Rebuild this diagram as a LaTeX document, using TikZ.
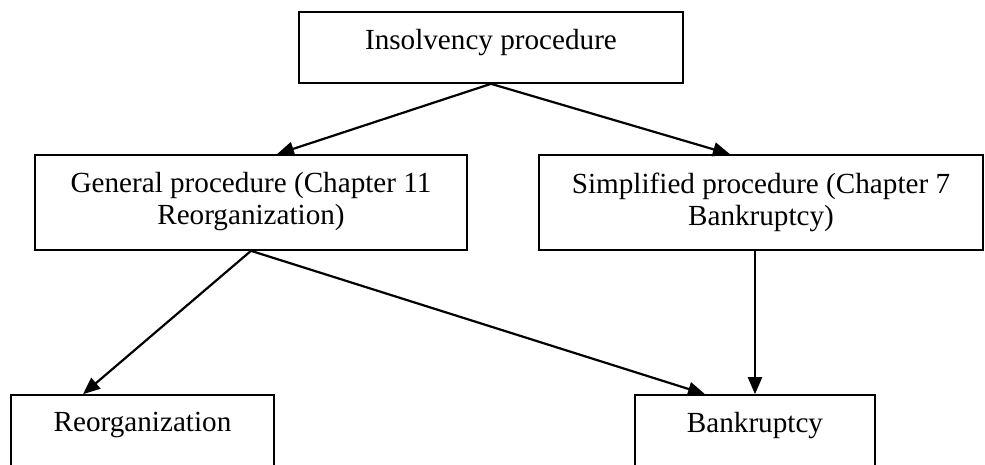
\documentclass[tikz,border=0pt]{standalone}
\usepackage{fontspec}
\setmainfont{Liberation Serif}
\usetikzlibrary{arrows.meta,positioning}

\begin{document}
\begin{tikzpicture}[
  x=0.02cm, y=-0.02cm,
  >={Triangle[length=0.34cm, width=0.28cm]},
  procbox/.style={draw, line width=0.95pt, inner sep=0pt},
  boxtext/.style={inner sep=0pt, align=center, font=\fontsize{16.6}{18.2}\selectfont},
  link/.style={->, line width=1.25pt}
]

% Frame of the picture
\clip (0,0) rectangle (985,464);

% Boxes
\node[procbox, minimum width=7.68cm, minimum height=1.42cm] (ins) at (491,47.5) {};
\node[procbox, minimum width=8.64cm, minimum height=1.9cm] (gen) at (251,202.5) {};
\node[procbox, minimum width=8.88cm, minimum height=1.9cm] (simp) at (761,202.5) {};
\node[procbox, minimum width=5.26cm, minimum height=1.6cm] (reorg) at (142.5,435) {};
\node[procbox, minimum width=4.8cm, minimum height=1.6cm] (bank) at (755,435) {};

% Texts
\node[boxtext, below=0.36cm of ins.north] (insText) {Insolvency procedure};
\node[boxtext, below=0.36cm of gen.north] (genText) {General procedure (Chapter 11\\Reorganization)};
\node[boxtext, below=0.36cm of simp.north] (simpText) {Simplified procedure (Chapter 7\\Bankruptcy)};
\node[boxtext, below=0.36cm of reorg.north] (reorgText) {Reorganization};
\node[boxtext, below=0.36cm of bank.north] (bankText) {Bankruptcy};

% Arrows
\draw[link] (ins.south) -- ([xshift=0.52cm]gen.north);
\draw[link] (ins.south) -- ([xshift=-0.62cm]simp.north);
\draw[link] (gen.south) -- ([xshift=-1.19cm]reorg.north);
\draw[link] (gen.south) -- ([xshift=-1.0cm]bank.north);
\draw[link] (simp.south -| bank.north) -- (bank.north);

\end{tikzpicture}
\end{document}
